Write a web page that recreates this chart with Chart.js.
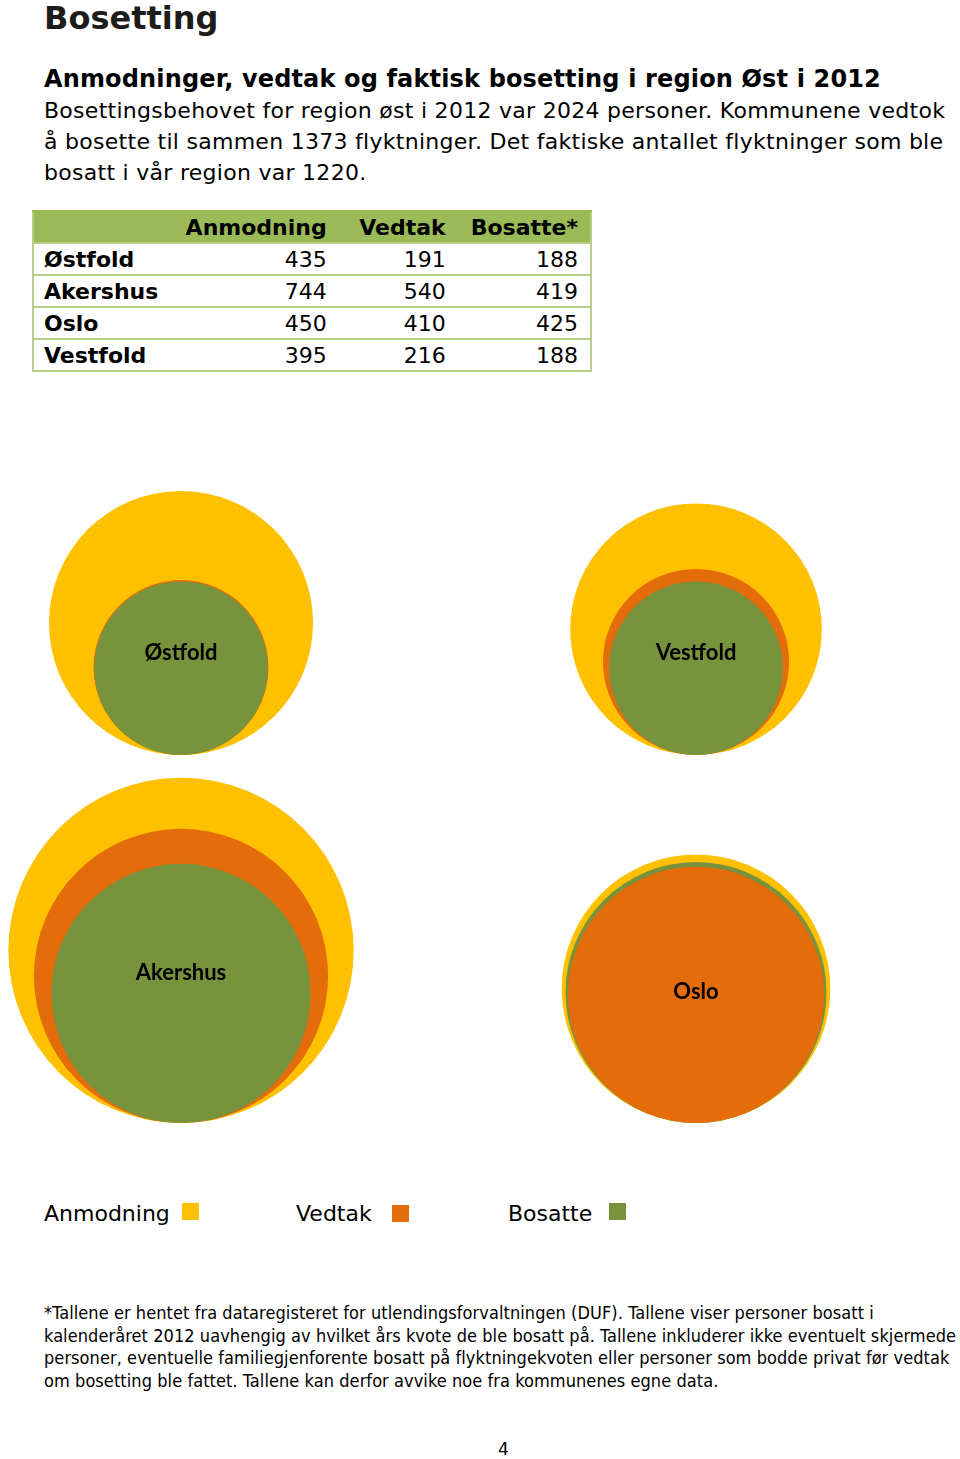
<!DOCTYPE html>
<html>
<head>
<meta charset="utf-8">
<script src="https://cdn.jsdelivr.net/npm/chart.js@4/dist/chart.umd.min.js"></script>
<style>
  html, body { margin: 0; padding: 0; background: #fff; }
  body { width: 960px; height: 1459px; position: relative; overflow: hidden; font-family: "DejaVu Sans", Verdana, sans-serif; color: #000; }
  .abs { position: absolute; white-space: nowrap; }
  h1 { position: absolute; left: 44px; top: 2px; margin: 0; font-size: 32px; line-height: 32px; font-weight: bold; color: #1e1c1a; }
  h2 { position: absolute; left: 44px; top: 67px; margin: 0; font-size: 24px; line-height: 24px; font-weight: bold; letter-spacing: 0.15px; }
  .intro { left: 44px; top: 95px; font-size: 22px; line-height: 31px; letter-spacing: 0.28px; }
  table { position: absolute; left: 32px; top: 210px; width: 560px; border-collapse: collapse; font-size: 22px; border: 2px solid #b7cf8a; }
  td, th { height: 30px; padding: 0 12px 0 12px; border-top: 2px solid #b7cf8a; text-align: right; }
  th { background: #9bbb59; font-weight: bold; border-color: #9bbb59; }
  td:first-child { text-align: left; font-weight: bold; padding-left: 10px; }
  td:nth-child(2), th:nth-child(2) { padding-right: 15px; }
  td:nth-child(3), th:nth-child(3) { padding-right: 13px; }
  #wrap { position: absolute; left: 0; top: 470px; width: 960px; height: 680px; }
  .legend { top: 1203px; font-size: 22px; line-height: 22px; }
  .sq { position: absolute; width: 17px; height: 17px; }
  .foot { left: 44px; top: 1302px; font-family: "DejaVu Sans Condensed", "DejaVu Sans", sans-serif; font-size: 18px; line-height: 22.7px; letter-spacing: 0.07px; }
  .page { left: 498px; top: 1441px; font-size: 17px; line-height: 17px; }
</style>
</head>
<body>
<h1>Bosetting</h1>
<h2>Anmodninger, vedtak og faktisk bosetting i region Øst i 2012</h2>
<div class="abs intro">Bosettingsbehovet for region øst i 2012 var 2024 personer. Kommunene vedtok<br>å bosette til sammen 1373 flyktninger. Det faktiske antallet flyktninger som ble<br>bosatt i vår region var 1220.</div>

<table id="tbl"></table>

<div id="wrap"><canvas id="myChart" width="960" height="680"></canvas></div>

<div class="abs legend" style="left:44px">Anmodning</div>
<div class="sq" style="left:182px; top:1203px; background:#ffc000"></div>
<div class="abs legend" style="left:296px">Vedtak</div>
<div class="sq" style="left:392px; top:1205px; background:#e46c0a"></div>
<div class="abs legend" style="left:508px">Bosatte</div>
<div class="sq" style="left:609px; top:1203px; background:#77933c"></div>

<div class="abs foot">*Tallene er hentet fra dataregisteret for utlendingsforvaltningen (DUF). Tallene viser personer bosatt i<br>kalenderåret 2012 uavhengig av hvilket års kvote de ble bosatt på. Tallene inkluderer ikke eventuelt skjermede<br>personer, eventuelle familiegjenforente bosatt på flyktningekvoten eller personer som bodde privat før vedtak<br>om bosetting ble fattet. Tallene kan derfor avvike noe fra kommunenes egne data.</div>

<div class="abs page">4</div>

<script>
// data (from the table)
const regions = ['Østfold', 'Akershus', 'Oslo', 'Vestfold'];
const seriesNames = ['Anmodning', 'Vedtak', 'Bosatte*'];
const anmodning = [435, 744, 450, 395];
const vedtak = [191, 540, 410, 216];
const bosatte = [188, 419, 425, 188];

// layout: which cell of the 2x2 grid each region sits in
const gridCol = [0, 0, 1, 1];
const gridRow = [0, 1, 1, 0];
const rowBase = [395, 27];   // bottom of each row, in px from the bottom of the canvas
const colours = ['#ffc000', '#e46c0a', '#77933c'];
const radiusPerSqrt = 6.33;  // circle area proportional to the number

// table
const tbl = document.getElementById('tbl');
let html = '<tr><th></th>' + seriesNames.map(s => '<th>' + s + '</th>').join('') + '</tr>';
regions.forEach((r, i) => {
    html += '<tr><td>' + r + '</td><td>' + anmodning[i] + '</td><td>' + vedtak[i] + '</td><td>' + bosatte[i] + '</td></tr>';
});
tbl.innerHTML = html;
const ths = tbl.querySelectorAll('th');
ths[0].style.width = '118px';
ths[1].style.width = '134px';
ths[2].style.width = '96px';

// one dataset per region, biggest circle first so the small ones end up on top
const datasets = regions.map((name, i) => {
    const pts = [anmodning[i], vedtak[i], bosatte[i]].map((v, s) => {
        const r = radiusPerSqrt * Math.sqrt(v);
        return { x: gridCol[i], y: rowBase[gridRow[i]] + r, r: r, colour: colours[s] };
    });
    pts.sort((a, b) => b.r - a.r);
    return {
        label: name,
        data: pts,
        backgroundColor: pts.map(p => p.colour),
        borderWidth: 0,
        hoverBorderWidth: 0,
        clip: false
    };
});

const regionLabels = {
    id: 'regionLabels',
    afterDatasetsDraw(chart) {
        const c = chart.ctx;
        c.save();
        c.font = 'bold 22px Lato, "Open Sans", sans-serif';
        c.fillStyle = '#000';
        c.textAlign = 'center';
        c.textBaseline = 'middle';
        chart.data.datasets.forEach((ds, i) => {
            const els = chart.getDatasetMeta(i).data;
            const x = els.reduce((a, e) => a + e.x, 0) / els.length;
            const y = els.reduce((a, e) => a + e.y, 0) / els.length;
            c.fillText(ds.label, x, y);
        });
        c.restore();
    }
};

const ctx = document.getElementById('myChart').getContext('2d');
const myChart = new Chart(ctx, {
    type: 'bubble',
    data: { datasets: datasets },
    options: {
        responsive: false,
        animation: false,
        layout: { padding: 0, autoPadding: false },
        plugins: { legend: { display: false }, tooltip: { enabled: false } },
        scales: {
            x: { type: 'linear', display: false, min: -0.3515, max: 1.5126 },
            y: { type: 'linear', display: false, min: 0, max: 680 }
        }
    },
    plugins: [regionLabels]
});
</script>
</body>
</html>
